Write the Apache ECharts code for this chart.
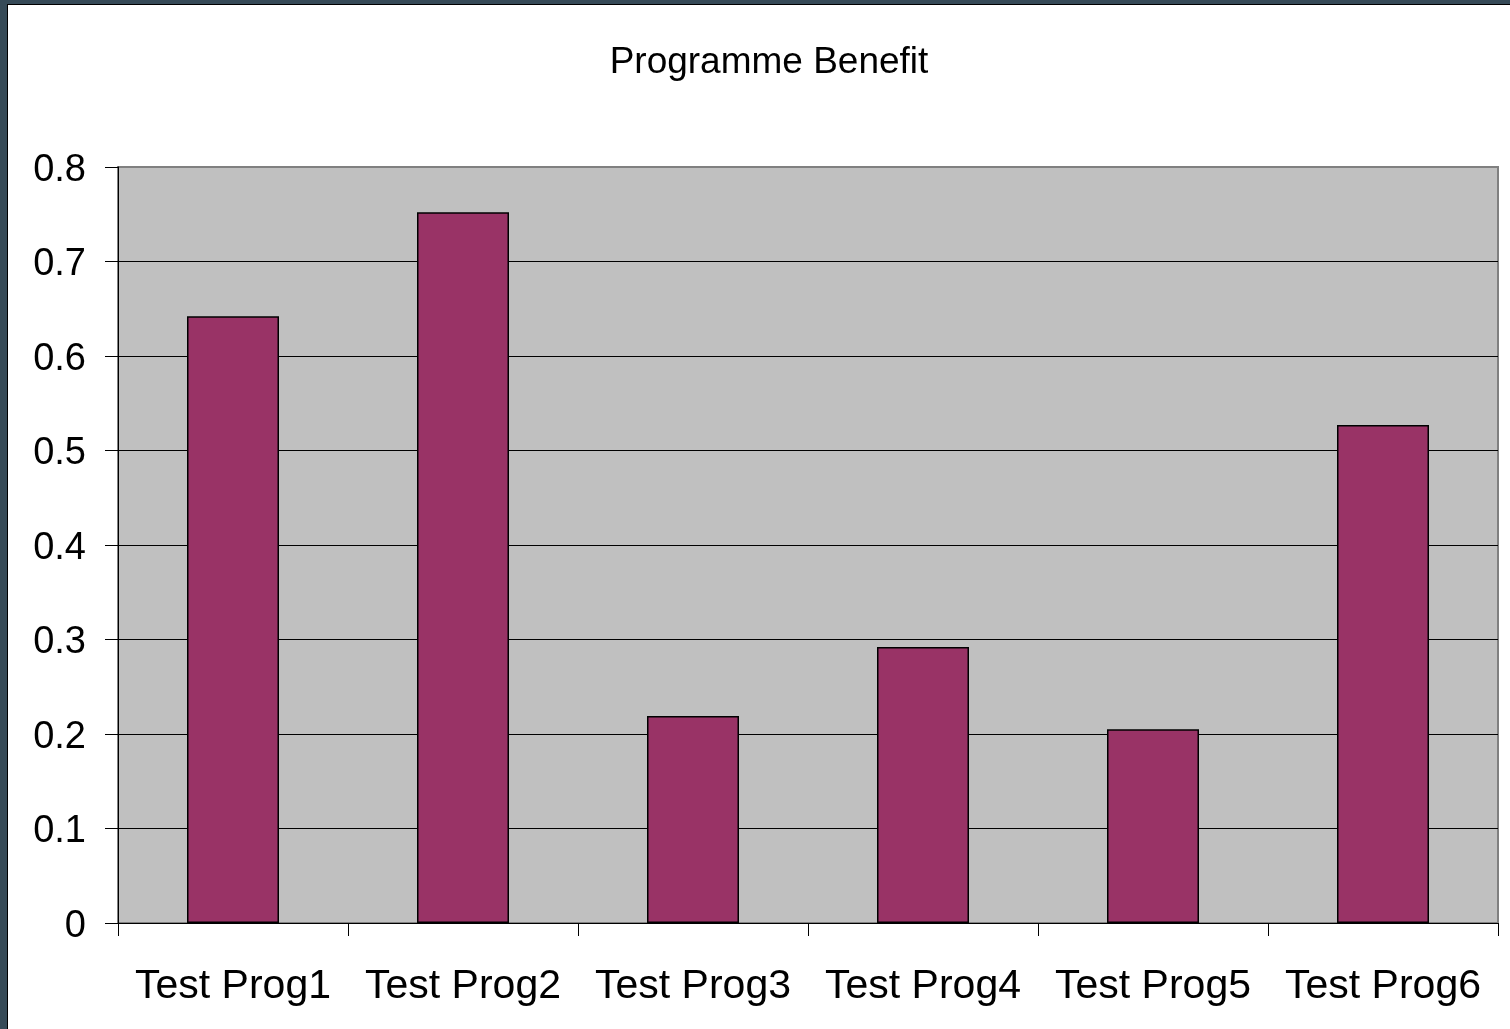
<!DOCTYPE html>
<html>
<head>
<meta charset="utf-8">
<title>Programme Benefit</title>
<script src="https://cdn.jsdelivr.net/npm/echarts@6/dist/echarts.min.js"></script>
<style>
  html, body { margin: 0; padding: 0; background: #ffffff; }
  #chart { width: 1510px; height: 1029px; }
</style>
</head>
<body>
<div id="chart"></div>
<script>
// Programme names along the x axis
var programmes = ['Test Prog1', 'Test Prog2', 'Test Prog3', 'Test Prog4', 'Test Prog5', 'Test Prog6'];
// Benefit per programme
var benefit = [0.642, 0.752, 0.219, 0.292, 0.205, 0.527];
// Value axis range
var yMin = 0;
var yMax = 0.8;
var yStep = 0.1;

var chart = echarts.init(document.getElementById('chart'), null, { renderer: 'canvas' });

// black grid lines, grey for the top edge of the plot
var gridLineColors = ['#000', '#000', '#000', '#000', '#000', '#000', '#000', '#000', '#808080'];

chart.setOption({
  backgroundColor: '#ffffff',
  animation: false,
  title: {
    text: 'Programme Benefit',
    left: 764,
    textAlign: 'center',
    top: 39,
    textStyle: {
      fontFamily: 'Liberation Sans, Arial, sans-serif',
      fontSize: 37,
      fontWeight: 'normal',
      color: '#000'
    }
  },
  grid: {
    left: 118,
    top: 167,
    right: 12,
    bottom: 106,
    show: true,
    backgroundColor: '#c0c0c0',
    borderColor: '#808080',
    borderWidth: 2
  },
  xAxis: {
    type: 'category',
    data: programmes,
    boundaryGap: true,
    axisLine: { show: true, lineStyle: { color: '#000', width: 1 } },
    axisTick: { show: true, length: 13, lineStyle: { color: '#000', width: 1 } },
    axisLabel: {
      margin: 43,
      fontFamily: 'Liberation Sans, Arial, sans-serif',
      fontSize: 41,
      color: '#000',
      interval: 0
    },
    splitLine: { show: false }
  },
  yAxis: {
    type: 'value',
    min: yMin,
    max: yMax,
    interval: yStep,
    axisLine: { show: true, lineStyle: { color: '#000', width: 1 } },
    axisTick: { show: true, length: 13, lineStyle: { color: '#000', width: 1 } },
    axisLabel: {
      margin: 32,
      color: '#000',
      formatter: '{v|{value}}',
      rich: {
        v: {
          fontFamily: 'Liberation Sans, Arial, sans-serif',
          fontSize: 38,
          color: '#000',
          padding: [7, 0, 0, 0]
        }
      }
    },
    splitLine: { show: true, lineStyle: { color: gridLineColors, width: 1 } }
  },
  series: [{
    type: 'bar',
    data: benefit,
    barWidth: '40%',
    itemStyle: {
      color: '#993366',
      borderColor: '#000',
      borderWidth: 1.5
    }
  }],
  graphic: [
    // dark outer frame along the left and top edges
    { type: 'rect', left: 0, top: 0, shape: { width: 8, height: 1029 }, style: { fill: '#364a57' }, z: 100 },
    { type: 'rect', left: 0, top: 0, shape: { width: 1510, height: 4 }, style: { fill: '#364a57' }, z: 100 },
    { type: 'rect', left: 7, top: 4, shape: { width: 1, height: 1025 }, style: { fill: '#000' }, z: 101 },
    { type: 'rect', left: 7, top: 4, shape: { width: 1503, height: 1 }, style: { fill: '#000' }, z: 101 }
  ]
});
</script>
</body>
</html>
